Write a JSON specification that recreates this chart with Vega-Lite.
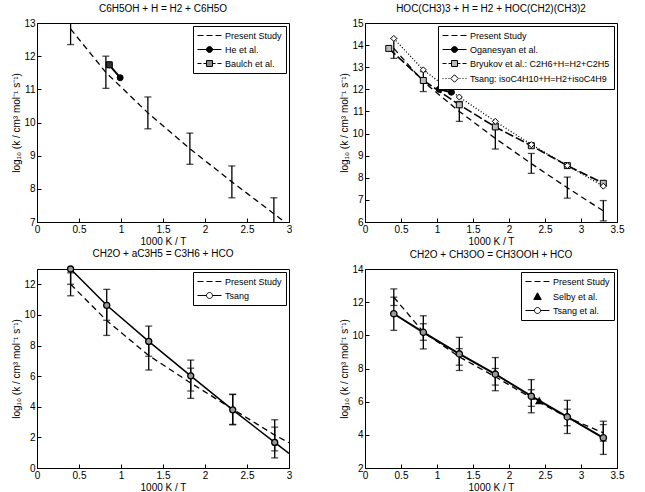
{
 "$schema": "https://vega.github.io/schema/vega-lite/v6.json",
 "background": "white",
 "padding": {"left": 11, "top": 3, "right": 5, "bottom": 0},
 "columns": 2,
 "spacing": {"row": 1, "column": 46},
 "datasets": {
  "p1": [
   {"s":"Present Study","x":0.4,"y":12.82},{"s":"Present Study","x":0.82,"y":11.51},{"s":"Present Study","x":1.32,"y":10.29},{"s":"Present Study","x":1.82,"y":9.21},{"s":"Present Study","x":2.32,"y":8.21},{"s":"Present Study","x":2.82,"y":7.25},{"s":"Present Study","x":3.0,"y":6.9},
   {"s":"He et al.","x":0.86,"y":11.74},{"s":"He et al.","x":0.99,"y":11.35},
   {"s":"Baulch et al.","x":0.86,"y":11.74}
  ],
  "p1e": [
   {"x":0.4,"lo":12.35,"hi":13.3},{"x":0.82,"lo":11.03,"hi":12.0},{"x":1.32,"lo":9.81,"hi":10.77},{"x":1.82,"lo":8.74,"hi":9.68},{"x":2.32,"lo":7.73,"hi":8.69},{"x":2.82,"lo":6.78,"hi":7.73}
  ],
  "p2": [
   {"s":"Present Study","x":0.4,"y":13.85},{"s":"Present Study","x":0.81,"y":12.35},{"s":"Present Study","x":1.31,"y":11.0},{"s":"Present Study","x":1.81,"y":9.78},{"s":"Present Study","x":2.31,"y":8.64},{"s":"Present Study","x":2.81,"y":7.55},{"s":"Present Study","x":3.31,"y":6.5},
   {"s":"Oganesyan et al.","x":1.03,"y":12.0},{"s":"Oganesyan et al.","x":1.2,"y":11.87},
   {"s":"Bryukov et al.: C2H6+H=H2+C2H5","x":0.33,"y":13.85},{"s":"Bryukov et al.: C2H6+H=H2+C2H5","x":0.81,"y":12.4},{"s":"Bryukov et al.: C2H6+H=H2+C2H5","x":1.31,"y":11.3},{"s":"Bryukov et al.: C2H6+H=H2+C2H5","x":1.81,"y":10.3},{"s":"Bryukov et al.: C2H6+H=H2+C2H5","x":2.31,"y":9.45},{"s":"Bryukov et al.: C2H6+H=H2+C2H5","x":2.81,"y":8.55},{"s":"Bryukov et al.: C2H6+H=H2+C2H5","x":3.31,"y":7.75},
   {"s":"Tsang: isoC4H10+H=H2+isoC4H9","x":0.4,"y":14.3},{"s":"Tsang: isoC4H10+H=H2+isoC4H9","x":0.81,"y":12.88},{"s":"Tsang: isoC4H10+H=H2+isoC4H9","x":1.31,"y":11.65},{"s":"Tsang: isoC4H10+H=H2+isoC4H9","x":1.81,"y":10.55},{"s":"Tsang: isoC4H10+H=H2+isoC4H9","x":2.31,"y":9.5},{"s":"Tsang: isoC4H10+H=H2+isoC4H9","x":2.81,"y":8.55},{"s":"Tsang: isoC4H10+H=H2+isoC4H9","x":3.31,"y":7.62}
  ],
  "p2e": [
   {"x":0.4,"lo":13.4,"hi":14.3},{"x":0.81,"lo":11.9,"hi":12.8},{"x":1.31,"lo":10.55,"hi":11.45},{"x":1.81,"lo":9.3,"hi":10.25},{"x":2.31,"lo":8.2,"hi":9.1},{"x":2.81,"lo":7.08,"hi":8.03},{"x":3.31,"lo":6.05,"hi":6.97}
  ],
  "p3": [
   {"s":"Present Study","x":0.4,"y":12.0},{"s":"Present Study","x":0.83,"y":9.63},{"s":"Present Study","x":1.33,"y":7.35},{"s":"Present Study","x":1.83,"y":5.55},{"s":"Present Study","x":2.33,"y":3.85},{"s":"Present Study","x":2.83,"y":2.15},{"s":"Present Study","x":3.0,"y":1.65},
   {"s":"Tsang","x":0.4,"y":13.0},{"s":"Tsang","x":0.83,"y":10.63},{"s":"Tsang","x":1.33,"y":8.27},{"s":"Tsang","x":1.83,"y":6.02},{"s":"Tsang","x":2.33,"y":3.8},{"s":"Tsang","x":2.83,"y":1.67},{"s":"Tsang","x":3.0,"y":0.95}
  ],
  "p3e": [
   {"x":0.4,"lo":11.25,"hi":12.75},{"x":0.83,"lo":8.66,"hi":10.6},{"x":1.33,"lo":6.4,"hi":8.3},{"x":1.83,"lo":4.55,"hi":6.52},{"x":2.33,"lo":2.85,"hi":4.82},{"x":2.83,"lo":1.12,"hi":3.15},
   {"x":0.4,"lo":12.0,"hi":14.0},{"x":0.83,"lo":9.65,"hi":11.67},{"x":1.33,"lo":7.3,"hi":9.27},{"x":1.83,"lo":5.03,"hi":7.05},{"x":2.33,"lo":2.82,"hi":4.8},{"x":2.83,"lo":0.66,"hi":2.67}
  ],
  "p4": [
   {"s":"Present Study","x":0.4,"y":12.3},{"s":"Present Study","x":0.81,"y":10.2},{"s":"Present Study","x":1.31,"y":8.7},{"s":"Present Study","x":1.81,"y":7.5},{"s":"Present Study","x":2.31,"y":6.22},{"s":"Present Study","x":2.81,"y":5.05},{"s":"Present Study","x":3.31,"y":4.12},
   {"s":"Selby et al.","x":2.42,"y":6.05},
   {"s":"Tsang et al.","x":0.4,"y":11.3},{"s":"Tsang et al.","x":0.81,"y":10.18},{"s":"Tsang et al.","x":1.31,"y":8.88},{"s":"Tsang et al.","x":1.81,"y":7.66},{"s":"Tsang et al.","x":2.31,"y":6.33},{"s":"Tsang et al.","x":2.81,"y":5.08},{"s":"Tsang et al.","x":3.31,"y":3.82}
  ],
  "p4e": [
   {"x":0.4,"lo":11.8,"hi":12.8},{"x":0.81,"lo":9.7,"hi":10.7},{"x":1.31,"lo":8.2,"hi":9.2},{"x":1.81,"lo":7.0,"hi":8.0},{"x":2.31,"lo":5.72,"hi":6.72},{"x":2.81,"lo":4.55,"hi":5.55},{"x":3.31,"lo":3.62,"hi":4.62},
   {"x":0.4,"lo":10.3,"hi":12.3},{"x":0.81,"lo":9.18,"hi":11.18},{"x":1.31,"lo":7.88,"hi":9.88},{"x":1.81,"lo":6.66,"hi":8.66},{"x":2.31,"lo":5.33,"hi":7.33},{"x":2.81,"lo":4.08,"hi":6.08},{"x":3.31,"lo":2.82,"hi":4.82}
  ]
 },
 "concat": [
  {
   "title": "C6H5OH + H = H2 + C6H5O",
   "width": 252, "height": 199,
   "resolve": {"scale": {"shape": "independent", "fill": "independent", "stroke": "independent"}, "axis": {"x": "independent", "y": "independent"}},
   "layer": [
    {"data": {"name": "p1"}, "transform": [{"filter": "datum.s == 'Present Study'"}],
     "mark": {"type": "line", "clip": true, "color": "black", "strokeWidth": 1.3, "strokeDash": [6, 4]},
     "encoding": {
      "x": {"field": "x", "type": "quantitative", "scale": {"domain": [0, 3], "nice": false}, "axis": {"orient": "bottom", "values": [0,0.5,1,1.5,2,2.5,3], "title": "1000 K / T", "labelOverlap": false}},
      "y": {"field": "y", "type": "quantitative", "scale": {"domain": [7, 13], "nice": false, "zero": false}, "axis": {"orient": "left", "values": [7,8,9,10,11,12,13], "title": "log₁₀ (k / cm³ mol⁻¹ s⁻¹)", "labelOverlap": false}}
     }},
    {"data": {"name": "p1"}, "transform": [{"filter": "datum.s == 'He et al.'"}],
     "mark": {"type": "line", "clip": true, "color": "black", "strokeWidth": 2},
     "encoding": {"x": {"field": "x", "type": "quantitative", "axis": null}, "y": {"field": "y", "type": "quantitative", "axis": null}}},
    {"data": {"name": "p1e"}, "mark": {"type": "rule", "clip": true, "color": "black", "strokeWidth": 1.3},
     "encoding": {"x": {"field": "x", "type": "quantitative", "axis": null}, "y": {"field": "lo", "type": "quantitative", "axis": null}, "y2": {"field": "hi"}}},
    {"data": {"name": "p1e"}, "transform": [{"fold": ["lo", "hi"], "as": ["k", "v"]}],
     "mark": {"type": "tick", "orient": "horizontal", "clip": true, "color": "black", "size": 7, "thickness": 1.3},
     "encoding": {"x": {"field": "x", "type": "quantitative", "axis": null}, "y": {"field": "v", "type": "quantitative", "axis": null}}},
    {"data": {"name": "p1"}, "transform": [{"filter": "datum.s != 'Present Study'"}],
     "mark": {"type": "point", "opacity": 1, "stroke": "black", "strokeWidth": 1, "size": 36},
     "encoding": {
      "x": {"field": "x", "type": "quantitative", "axis": null},
      "y": {"field": "y", "type": "quantitative", "axis": null},
      "shape": {"field": "s", "scale": {"domain": ["He et al.", "Baulch et al."], "range": ["circle", "square"]}, "legend": null},
      "fill": {"field": "s", "scale": {"domain": ["He et al.", "Baulch et al."], "range": ["black", "#333"]}, "legend": null}
     }},
    {"data": {"name": "p1"}, "transform": [{"filter": "false"}],
     "mark": {"type": "point", "opacity": 1, "strokeWidth": 1},
     "encoding": {
      "x": {"field": "x", "type": "quantitative", "axis": null},
      "y": {"field": "y", "type": "quantitative", "axis": null},
      "shape": {"field": "s", "scale": {"domain": ["Present Study", "He et al.", "Baulch et al."], "range": ["M-2.4,0H-1.2M-0.6,0H0.6M1.2,0H2.4", "M-2.4,0H2.4M0.6,0A0.6,0.6,0,1,1,-0.6,0A0.6,0.6,0,1,1,0.6,0", "M-2.4,0H-1.6M-1.2,0H-0.6M0.6,0H1.2M1.6,0H2.4M-0.6,-0.6H0.6V0.6H-0.6Z"]}, "legend": {"title": null}},
      "fill": {"field": "s", "scale": {"domain": ["Present Study", "He et al.", "Baulch et al."], "range": ["transparent", "black", "#888"]}, "legend": {"title": null}},
      "stroke": {"field": "s", "scale": {"domain": ["Present Study", "He et al.", "Baulch et al."], "range": ["black", "black", "black"]}, "legend": {"title": null}}
     }}
   ]
  },
  {
   "title": "HOC(CH3)3 + H = H2 + HOC(CH2)(CH3)2",
   "width": 252, "height": 199,
   "resolve": {"scale": {"shape": "independent", "fill": "independent", "stroke": "independent"}, "axis": {"x": "independent", "y": "independent"}},
   "layer": [
    {"data": {"name": "p2"}, "transform": [{"filter": "datum.s == 'Present Study'"}],
     "mark": {"type": "line", "clip": true, "color": "black", "strokeWidth": 1.3, "strokeDash": [6, 4]},
     "encoding": {
      "x": {"field": "x", "type": "quantitative", "scale": {"domain": [0, 3.5], "nice": false}, "axis": {"orient": "bottom", "values": [0,0.5,1,1.5,2,2.5,3,3.5], "title": "1000 K / T", "labelOverlap": false}},
      "y": {"field": "y", "type": "quantitative", "scale": {"domain": [6, 15], "nice": false, "zero": false}, "axis": {"orient": "left", "values": [6,7,8,9,10,11,12,13,14,15], "title": "log₁₀ (k / cm³ mol⁻¹ s⁻¹)", "labelOverlap": false}}
     }},
    {"data": {"name": "p2"}, "transform": [{"filter": "datum.s == 'Oganesyan et al.'"}],
     "mark": {"type": "line", "clip": true, "color": "black", "strokeWidth": 2},
     "encoding": {"x": {"field": "x", "type": "quantitative", "axis": null}, "y": {"field": "y", "type": "quantitative", "axis": null}}},
    {"data": {"name": "p2"}, "transform": [{"filter": "datum.s == 'Bryukov et al.: C2H6+H=H2+C2H5'"}],
     "mark": {"type": "line", "clip": true, "color": "black", "strokeWidth": 1.6, "strokeDash": [9, 3]},
     "encoding": {"x": {"field": "x", "type": "quantitative", "axis": null}, "y": {"field": "y", "type": "quantitative", "axis": null}}},
    {"data": {"name": "p2"}, "transform": [{"filter": "datum.s == 'Tsang: isoC4H10+H=H2+isoC4H9'"}],
     "mark": {"type": "line", "clip": true, "color": "black", "strokeWidth": 1.3, "strokeDash": [1, 2]},
     "encoding": {"x": {"field": "x", "type": "quantitative", "axis": null}, "y": {"field": "y", "type": "quantitative", "axis": null}}},
    {"data": {"name": "p2e"}, "mark": {"type": "rule", "clip": true, "color": "black", "strokeWidth": 1.3},
     "encoding": {"x": {"field": "x", "type": "quantitative", "axis": null}, "y": {"field": "lo", "type": "quantitative", "axis": null}, "y2": {"field": "hi"}}},
    {"data": {"name": "p2e"}, "transform": [{"fold": ["lo", "hi"], "as": ["k", "v"]}],
     "mark": {"type": "tick", "orient": "horizontal", "clip": true, "color": "black", "size": 7, "thickness": 1.3},
     "encoding": {"x": {"field": "x", "type": "quantitative", "axis": null}, "y": {"field": "v", "type": "quantitative", "axis": null}}},
    {"data": {"name": "p2"}, "transform": [{"filter": "datum.s != 'Present Study'"}],
     "mark": {"type": "point", "opacity": 1, "stroke": "black", "strokeWidth": 1, "size": 36},
     "encoding": {
      "x": {"field": "x", "type": "quantitative", "axis": null},
      "y": {"field": "y", "type": "quantitative", "axis": null},
      "shape": {"field": "s", "scale": {"domain": ["Oganesyan et al.", "Bryukov et al.: C2H6+H=H2+C2H5", "Tsang: isoC4H10+H=H2+isoC4H9"], "range": ["circle", "square", "diamond"]}, "legend": null},
      "fill": {"field": "s", "scale": {"domain": ["Oganesyan et al.", "Bryukov et al.: C2H6+H=H2+C2H5", "Tsang: isoC4H10+H=H2+isoC4H9"], "range": ["black", "#bbb", "white"]}, "legend": null}
     }},
    {"data": {"name": "p2"}, "transform": [{"filter": "false"}],
     "mark": {"type": "point", "opacity": 1, "strokeWidth": 1},
     "encoding": {
      "x": {"field": "x", "type": "quantitative", "axis": null},
      "y": {"field": "y", "type": "quantitative", "axis": null},
      "shape": {"field": "s", "scale": {"domain": ["Present Study", "Oganesyan et al.", "Bryukov et al.: C2H6+H=H2+C2H5", "Tsang: isoC4H10+H=H2+isoC4H9"], "range": ["M-2.4,0H-1.2M-0.6,0H0.6M1.2,0H2.4", "M-2.4,0H2.4M0.6,0A0.6,0.6,0,1,1,-0.6,0A0.6,0.6,0,1,1,0.6,0", "M-2.4,0H-1.6M-1.2,0H-0.6M0.6,0H1.2M1.6,0H2.4M-0.6,-0.6H0.6V0.6H-0.6Z", "M-2.4,0H-2.2M-1.8,0H-1.6M-1.2,0H-1.0M1.0,0H1.2M1.6,0H1.8M2.2,0H2.4M0,-0.75L0.75,0L0,0.75L-0.75,0Z"]}, "legend": {"title": null}},
      "fill": {"field": "s", "scale": {"domain": ["Present Study", "Oganesyan et al.", "Bryukov et al.: C2H6+H=H2+C2H5", "Tsang: isoC4H10+H=H2+isoC4H9"], "range": ["transparent", "black", "#bbb", "white"]}, "legend": {"title": null}},
      "stroke": {"field": "s", "scale": {"domain": ["Present Study", "Oganesyan et al.", "Bryukov et al.: C2H6+H=H2+C2H5", "Tsang: isoC4H10+H=H2+isoC4H9"], "range": ["black", "black", "black", "black"]}, "legend": {"title": null}}
     }}
   ]
  },
  {
   "title": "CH2O + aC3H5 = C3H6 + HCO",
   "width": 252, "height": 199,
   "resolve": {"scale": {"shape": "independent", "fill": "independent", "stroke": "independent"}, "axis": {"x": "independent", "y": "independent"}},
   "layer": [
    {"data": {"name": "p3"}, "transform": [{"filter": "datum.s == 'Present Study'"}],
     "mark": {"type": "line", "clip": true, "color": "black", "strokeWidth": 1.3, "strokeDash": [6, 4]},
     "encoding": {
      "x": {"field": "x", "type": "quantitative", "scale": {"domain": [0, 3], "nice": false}, "axis": {"orient": "bottom", "values": [0,0.5,1,1.5,2,2.5,3], "title": "1000 K / T", "labelOverlap": false}},
      "y": {"field": "y", "type": "quantitative", "scale": {"domain": [0, 13], "nice": false, "zero": false}, "axis": {"orient": "left", "values": [0,2,4,6,8,10,12], "title": "log₁₀ (k / cm³ mol⁻¹ s⁻¹)", "labelOverlap": false}}
     }},
    {"data": {"name": "p3"}, "transform": [{"filter": "datum.s == 'Tsang'"}],
     "mark": {"type": "line", "clip": true, "color": "black", "strokeWidth": 1.5},
     "encoding": {"x": {"field": "x", "type": "quantitative", "axis": null}, "y": {"field": "y", "type": "quantitative", "axis": null}}},
    {"data": {"name": "p3e"}, "mark": {"type": "rule", "clip": true, "color": "black", "strokeWidth": 1.3},
     "encoding": {"x": {"field": "x", "type": "quantitative", "axis": null}, "y": {"field": "lo", "type": "quantitative", "axis": null}, "y2": {"field": "hi"}}},
    {"data": {"name": "p3e"}, "transform": [{"fold": ["lo", "hi"], "as": ["k", "v"]}],
     "mark": {"type": "tick", "orient": "horizontal", "clip": true, "color": "black", "size": 7, "thickness": 1.3},
     "encoding": {"x": {"field": "x", "type": "quantitative", "axis": null}, "y": {"field": "v", "type": "quantitative", "axis": null}}},
    {"data": {"name": "p3"}, "transform": [{"filter": "datum.s != 'Present Study' && datum.x < 2.95"}],
     "mark": {"type": "point", "opacity": 1, "stroke": "black", "strokeWidth": 1.3, "size": 36},
     "encoding": {
      "x": {"field": "x", "type": "quantitative", "axis": null},
      "y": {"field": "y", "type": "quantitative", "axis": null},
      "shape": {"field": "s", "scale": {"domain": ["Tsang"], "range": ["circle"]}, "legend": null},
      "fill": {"field": "s", "scale": {"domain": ["Tsang"], "range": ["#999"]}, "legend": null}
     }},
    {"data": {"name": "p3"}, "transform": [{"filter": "false"}],
     "mark": {"type": "point", "opacity": 1, "strokeWidth": 1},
     "encoding": {
      "x": {"field": "x", "type": "quantitative", "axis": null},
      "y": {"field": "y", "type": "quantitative", "axis": null},
      "shape": {"field": "s", "scale": {"domain": ["Present Study", "Tsang"], "range": ["M-2.4,0H-1.2M-0.6,0H0.6M1.2,0H2.4", "M-2.4,0H-0.6M0.6,0H2.4M0.6,0A0.6,0.6,0,1,1,-0.6,0A0.6,0.6,0,1,1,0.6,0"]}, "legend": {"title": null}},
      "fill": {"field": "s", "scale": {"domain": ["Present Study", "Tsang"], "range": ["transparent", "white"]}, "legend": {"title": null}},
      "stroke": {"field": "s", "scale": {"domain": ["Present Study", "Tsang"], "range": ["black", "black"]}, "legend": {"title": null}}
     }}
   ]
  },
  {
   "title": "CH2O + CH3OO = CH3OOH + HCO",
   "width": 252, "height": 199,
   "resolve": {"scale": {"shape": "independent", "fill": "independent", "stroke": "independent"}, "axis": {"x": "independent", "y": "independent"}},
   "layer": [
    {"data": {"name": "p4"}, "transform": [{"filter": "datum.s == 'Present Study'"}],
     "mark": {"type": "line", "clip": true, "color": "black", "strokeWidth": 1.3, "strokeDash": [6, 4]},
     "encoding": {
      "x": {"field": "x", "type": "quantitative", "scale": {"domain": [0, 3.5], "nice": false}, "axis": {"orient": "bottom", "values": [0,0.5,1,1.5,2,2.5,3,3.5], "title": "1000 K / T", "labelOverlap": false}},
      "y": {"field": "y", "type": "quantitative", "scale": {"domain": [2, 14], "nice": false, "zero": false}, "axis": {"orient": "left", "values": [2,4,6,8,10,12,14], "title": "log₁₀ (k / cm³ mol⁻¹ s⁻¹)", "labelOverlap": false}}
     }},
    {"data": {"name": "p4"}, "transform": [{"filter": "datum.s == 'Tsang et al.'"}],
     "mark": {"type": "line", "clip": true, "color": "black", "strokeWidth": 2},
     "encoding": {"x": {"field": "x", "type": "quantitative", "axis": null}, "y": {"field": "y", "type": "quantitative", "axis": null}}},
    {"data": {"name": "p4e"}, "mark": {"type": "rule", "clip": true, "color": "black", "strokeWidth": 1.3},
     "encoding": {"x": {"field": "x", "type": "quantitative", "axis": null}, "y": {"field": "lo", "type": "quantitative", "axis": null}, "y2": {"field": "hi"}}},
    {"data": {"name": "p4e"}, "transform": [{"fold": ["lo", "hi"], "as": ["k", "v"]}],
     "mark": {"type": "tick", "orient": "horizontal", "clip": true, "color": "black", "size": 7, "thickness": 1.3},
     "encoding": {"x": {"field": "x", "type": "quantitative", "axis": null}, "y": {"field": "v", "type": "quantitative", "axis": null}}},
    {"data": {"name": "p4"}, "transform": [{"filter": "datum.s != 'Present Study'"}],
     "mark": {"type": "point", "opacity": 1, "stroke": "black", "strokeWidth": 1.3, "size": 40},
     "encoding": {
      "x": {"field": "x", "type": "quantitative", "axis": null},
      "y": {"field": "y", "type": "quantitative", "axis": null},
      "shape": {"field": "s", "scale": {"domain": ["Selby et al.", "Tsang et al."], "range": ["triangle-up", "circle"]}, "legend": null},
      "fill": {"field": "s", "scale": {"domain": ["Selby et al.", "Tsang et al."], "range": ["black", "#999"]}, "legend": null}
     }},
    {"data": {"name": "p4"}, "transform": [{"filter": "false"}],
     "mark": {"type": "point", "opacity": 1, "strokeWidth": 1},
     "encoding": {
      "x": {"field": "x", "type": "quantitative", "axis": null},
      "y": {"field": "y", "type": "quantitative", "axis": null},
      "shape": {"field": "s", "scale": {"domain": ["Present Study", "Selby et al.", "Tsang et al."], "range": ["M-2.4,0H-1.2M-0.6,0H0.6M1.2,0H2.4", "M0,-0.75L0.75,0.6L-0.75,0.6Z", "M-2.4,0H-0.6M0.6,0H2.4M0.6,0A0.6,0.6,0,1,1,-0.6,0A0.6,0.6,0,1,1,0.6,0"]}, "legend": {"title": null}},
      "fill": {"field": "s", "scale": {"domain": ["Present Study", "Selby et al.", "Tsang et al."], "range": ["transparent", "black", "white"]}, "legend": {"title": null}},
      "stroke": {"field": "s", "scale": {"domain": ["Present Study", "Selby et al.", "Tsang et al."], "range": ["black", "black", "black"]}, "legend": {"title": null}}
     }}
   ]
  }
 ],
 "config": {
  "font": "Liberation Sans",
  "view": {"stroke": "black", "strokeWidth": 1},
  "title": {"fontSize": 10, "fontWeight": "normal", "font": "Liberation Sans", "color": "black", "offset": 4},
  "axis": {"domainColor": "black", "tickColor": "black", "labelColor": "black", "titleColor": "black", "labelFontSize": 10, "titleFontSize": 10, "titleFontWeight": "normal", "grid": false, "tickSize": -4, "labelPadding": 6, "domainWidth": 1, "tickWidth": 1, "format": "~g", "labelFlush": false, "labelOverlap": false, "labelFont": "Liberation Sans", "titleFont": "Liberation Sans", "titlePadding": 2},
  "legend": {"orient": "top-right", "offset": 3, "strokeColor": "black", "fillColor": "white", "padding": 4, "labelFontSize": 9, "labelFont": "Liberation Sans", "labelColor": "black", "symbolSize": 100, "symbolStrokeWidth": 1, "symbolOffset": 7, "labelOffset": 10, "rowPadding": 3, "labelLimit": 300}
 }
}
